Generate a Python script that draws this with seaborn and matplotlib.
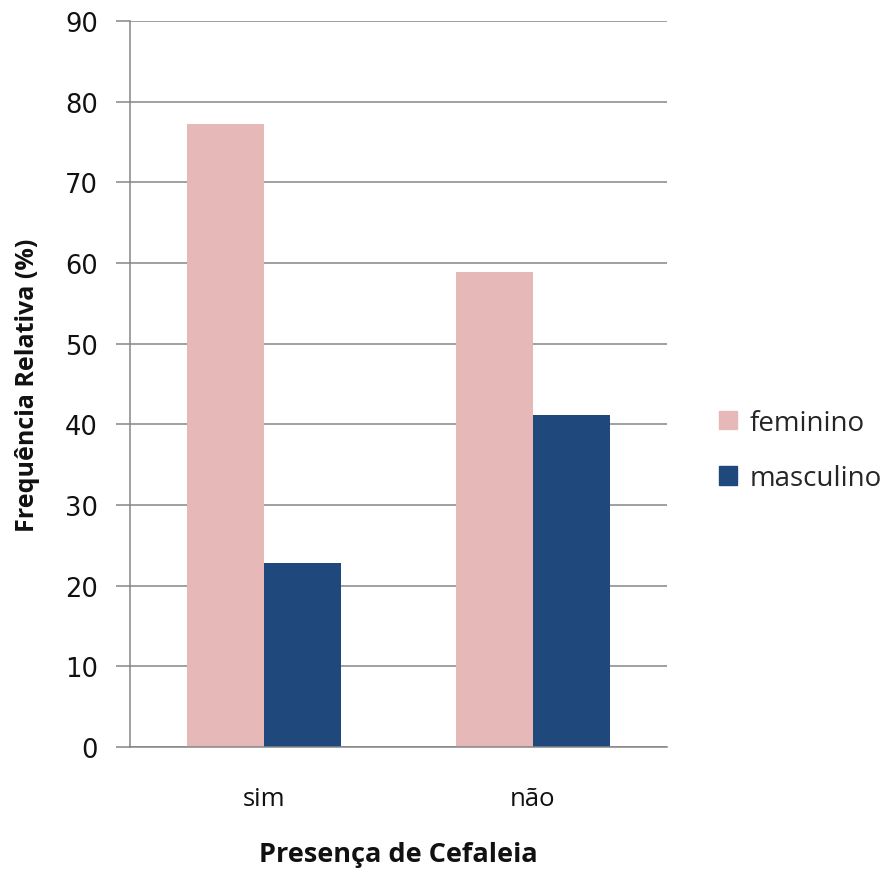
import matplotlib
matplotlib.use("Agg")
import matplotlib.pyplot as plt
import seaborn as sns
import pandas as pd

# Relative frequency (%) of headache presence by sex
categories = ["sim", "não"]
sexes = ["feminino", "masculino"]
feminino = [77.2, 58.9]
masculino = [22.8, 41.1]
y_ticks = [0, 10, 20, 30, 40, 50, 60, 70, 80, 90]

df = pd.DataFrame({
    "Presença de Cefaleia": categories * 2,
    "sexo": [sexes[0]] * len(categories) + [sexes[1]] * len(categories),
    "freq": feminino + masculino,
})

sns.set_theme(style="white")
plt.rcParams["font.family"] = ["DejaVu Sans"]

palette = {"feminino": "#E6B9B8", "masculino": "#1F497D"}
grid_col = "#868686"
txt_col = "#111111"

fig = plt.figure(figsize=(8.85, 8.7), dpi=100)
ax = fig.add_axes([0.1469, 0.1402, 0.6068, 0.8345])

sns.barplot(data=df, x="Presença de Cefaleia", y="freq", hue="sexo",
            order=categories, hue_order=sexes, palette=palette,
            width=0.574, linewidth=0, saturation=1, ax=ax, legend=False)

ax.set_xlim(-0.5, 1.5)
ax.set_ylim(0, 90)
ax.set_yticks(y_ticks)
ax.set_yticklabels([str(v) for v in y_ticks], fontsize=18.5, family="DejaVu Sans", color=txt_col)
ax.yaxis.grid(True, color=grid_col, linewidth=1.1)
ax.set_axisbelow(True)

# category labels centered, tick marks at category boundaries
ax.set_xticks(range(len(categories)))
ax.set_xticklabels(categories, fontsize=18.5, family="Open Sans", color=txt_col)
ax.set_xticks([-0.5, 0.5, 1.5], minor=True)
ax.tick_params(axis="x", which="major", length=0, pad=28)
ax.tick_params(axis="x", which="minor", length=10, width=1.1, color=grid_col, direction="out")
ax.tick_params(axis="y", which="major", length=10, width=1.1, color=grid_col,
               direction="out", pad=13, left=True)

for side in ["top", "right"]:
    ax.spines[side].set_visible(False)
for side in ["left", "bottom"]:
    ax.spines[side].set_color(grid_col)
    ax.spines[side].set_linewidth(1.1)

ax.set_xlabel("Presença de Cefaleia", fontsize=19.5, fontweight="bold",
              family="Open Sans", color=txt_col, labelpad=22)
ax.set_ylabel("Frequência Relativa (%)", fontsize=18, fontweight="bold",
              family="Open Sans", color=txt_col, labelpad=18)

handles = [plt.Rectangle((0, 0), 1, 1, color=palette[s]) for s in sexes]
fig.legend(handles, sexes, loc="center left", bbox_to_anchor=(0.8124, 0.481),
           frameon=False, prop={"family": "Open Sans", "size": 20},
           handlelength=0.65, handleheight=0.65, handletextpad=0.45, labelspacing=1.0,
           borderaxespad=0, borderpad=0)

fig.savefig("out.png", dpi=100)
